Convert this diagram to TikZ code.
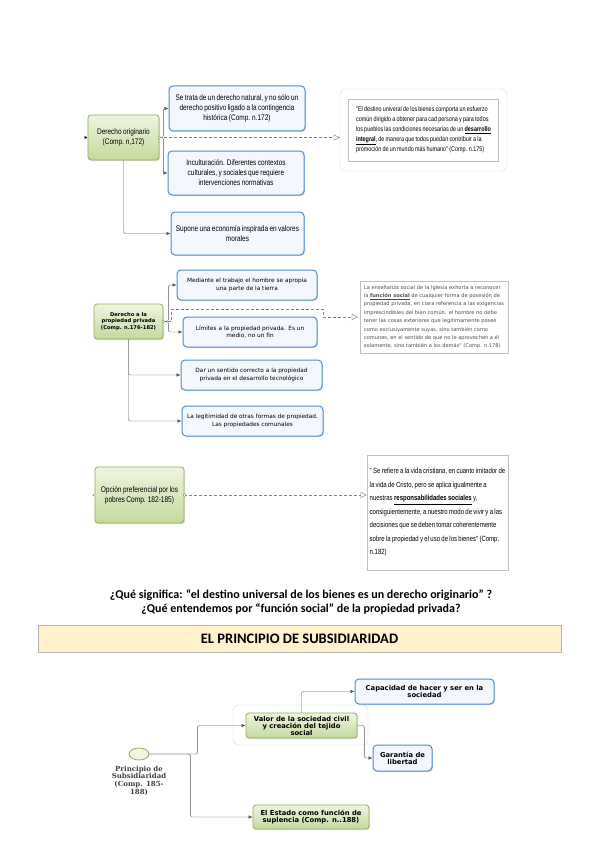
\documentclass[tikz,border=0pt]{standalone}
\usepackage{fontspec}
\setmainfont{Liberation Sans}
\newfontfamily\estrecha[FakeStretch=0.8, WordSpace=0.8]{Liberation Sans}
\newfontfamily\verdana{DejaVu Sans}
\newfontfamily\verdanaserif{DejaVu Serif}
\newfontfamily\calibri{Carlito}
\usetikzlibrary{arrows.meta, positioning, shapes.geometric, shadows}

\definecolor{azul}{HTML}{4A8FCF}
\definecolor{azulfondo}{HTML}{F5F7FF}
\definecolor{verdeborde}{HTML}{8FAE5A}
\definecolor{verdeclaro}{HTML}{EFF5DF}
\definecolor{verdeoscuro}{HTML}{C4D99D}
\definecolor{gris}{HTML}{7F7F7F}
\definecolor{beige}{HTML}{FFF2CC}

\begin{document}
\begin{tikzpicture}[
        x = 1pt, y = -1pt,
        >= {Latex[length = 4pt, width = 3.4pt]},
        sombra/.style = {drop shadow = {shadow xshift = 1pt, shadow yshift = -1pt, opacity = 0.25}},
        tema/.style = {rounded corners = 3pt, draw = verdeborde, thick, top color = verdeclaro,
            bottom color = verdeoscuro, align = center, inner sep = 2pt, sombra},
        hoja/.style = {rounded corners = 4pt, draw = azul, line width = 1pt, fill = azulfondo,
            align = center, inner sep = 2pt, sombra},
        cita/.style = {draw = gris!50, fill = white, align = left, inner sep = 3pt},
        enlace/.style = {draw = black!65, thin, rounded corners = 2pt, ->},
        nota/.style = {draw = gris, dash pattern = on 3pt off 2pt,
            -{Triangle[open, length = 6pt, width = 6pt]}},
        punto/.style = {circle, draw = gris, fill = white, inner sep = 0pt, minimum size = 3pt},
        angosta/.style = {font = \estrecha\fontsize{#1}{10}\selectfont},
        ancha/.style = {font = \verdana\fontsize{#1}{7.5}\selectfont},
        negrita/.style = {font = \verdana\bfseries\fontsize{#1}{7}\selectfont}
    ]

        \fill[white] (0,0) rectangle (599,848);
        \useasboundingbox (0,0) rectangle (599,848);

        % destino universal
        \node[tema, angosta = 8.1, minimum width = 71, minimum height = 45] (dor) at (123.5,137.5)
            {Derecho originario\\(Comp. n,172)};
        \node[hoja, angosta = 8.1, minimum width = 136, minimum height = 45] (dor_a) at (237,108.5)
            {Se trata de un derecho natural,  y no sólo un\\derecho positivo ligado a  la contingencia\\histórica (Comp. n.172)};
        \node[hoja, angosta = 8.1, minimum width = 136, minimum height = 44] (dor_b) at (236,173)
            {Inculturación. Diferentes contextos\\culturales, y sociales que requiere\\intervenciones normativas};
        \node[hoja, angosta = 8.1, minimum width = 133, minimum height = 43] (dor_c) at (237.5,233.5)
            {Supone una economía inspirada en valores\\morales};
        \node[rounded corners = 6pt, draw = gris!30, minimum width = 167, minimum height = 82] (q1) at (423.5,130) {};
        \node[cita, angosta = 6.8, minimum width = 150, minimum height = 62] (q1_t) at (q1.center)
            {"El destino univeral de los bienes comporta un esfuerzo\\común dirigido a obtener para cad persona  y para todos\\los pueblos las condiciones necesarias de un \underline{\textbf{desarrollo}}\\\underline{\textbf{integral}}, de manera que todos puedan contribuir a la\\promoción de un mundo más humano" (Comp. n.175)};

        \draw[-{Latex[length = 3pt, width = 3pt]}] ([xshift = -3pt]dor.west) -- (dor.west);
        \draw[enlace] (dor.east) -- ++(4,0) |- (dor_a.west);
        \draw[enlace] (dor.east) -- ++(4,0) |- (dor_b.west);
        \draw[enlace] (dor.south) |- (dor_c.west);
        \draw[nota] (dor.east) -- (dor.east -| q1.west);
        \node[punto] (dor_p) at (dor.east) {};

        % propiedad privada
        \node[tema, font = \verdana\bfseries\fontsize{5.2}{6.6}\selectfont, minimum width = 69, minimum height = 35] (pri) at (128.5,321.5)
            {Derecho a la\\propiedad privada\\(Comp. n.176-182)};
        \node[hoja, ancha = 5.8, minimum width = 140, minimum height = 30] (pri_a) at (247,285)
            {Mediante el trabajo  el hombre se apropia\\una parte de la tierra};
        \node[hoja, ancha = 5.8, minimum width = 134, minimum height = 30] (pri_b) at (250,332)
            {Límites a la propiedad privada. Es un\\medio, no un fin};
        \node[hoja, ancha = 5.8, minimum width = 141, minimum height = 30] (pri_c) at (251.5,375)
            {Dar un sentido correcto a la propiedad\\privada en el desarrollo tecnológico};
        \node[hoja, ancha = 5.8, minimum width = 141, minimum height = 30] (pri_d) at (252.5,421)
            {La legitimidad de otras formas de propiedad.\\Las propiedades comunales};
        \node[cita, font = \verdana\fontsize{5.1}{8.4}\selectfont, text = black!70, minimum width = 148, minimum height = 72] (q2) at (434,317)
            {La enseñanza social de la Iglesia exhorta a reconocer\\la \underline{\textbf{función social}} de cualquier forma de posesión de\\propiedad privada, en clara referencia a las exigencias\\imprescindibles del bien común. el hombre no debe\\tener las cosas exteriores que legítimamente posee\\como exclusivamente suyas, sino también como\\comunes, en el sentido de que no le aprovechen a él\\solamente, sino también a los demás" (Comp. n.178)};
        \coordinate (pri_k) at (323,309);

        \draw[enlace] (pri.east) -- ++(5,0) |- (pri_a.west);
        \draw[enlace] (pri.east) -- ++(5,0) |- (pri_b.west);
        \draw[enlace] (pri.south) |- (pri_c.west);
        \draw[enlace] (pri.south) |- (pri_d.west);
        \draw[nota] (pri.east) -- ++(8,0) |- (pri_k) |- ([xshift = -2pt]q2.west);
        \node[punto] (pri_p) at (pri.east) {};

        % opcion por los pobres
        \node[tema, angosta = 8.2, minimum width = 89, minimum height = 56] (opc) at (139.5,495)
            {Opción preferencial por los\\pobres  Comp. 182-185)};
        \node[cita, font = \estrecha\fontsize{7.5}{13.5}\selectfont, minimum width = 139, minimum height = 115] (q3) at (437.5,512.5)
            {" Se refiere a la vida cristiana, en cuanto imitador de\\la vida de Cristo, pero se aplica igualmente a\\nuestras \underline{\textbf{responsabilidades sociales}} y,\\consiguientemente, a nuestro modo de vivir y a las\\decisiones que se deben tomar coherentemente\\sobre la propiedad y el uso de los bienes" (Comp.\\n.182)};

        \fill[black!70] ([xshift = -1.5pt]opc.west) circle (0.8pt);
        \draw[nota] (opc.east) -- (opc.east -| q3.west);
        \node[punto] (opc_p) at (opc.east) {};

        % preguntas y titulo
        \node[align = center, font = \calibri\bfseries\fontsize{12}{14}\selectfont] (preg) at (301,602)
            {¿Qué significa: “el destino universal de los bienes es un derecho originario” ?\\¿Qué entendemos por “función social” de la propiedad privada?};
        \node[draw = gris!60, fill = beige, font = \calibri\bfseries\fontsize{14.5}{16}\selectfont, minimum width = 523, minimum height = 27] (titulo) at (299.5,638.5)
            {EL PRINCIPIO DE SUBSIDIARIDAD};

        % subsidiaridad
        \node[ellipse, draw = verdeborde, thick, fill = verdeclaro, minimum width = 20, minimum height = 12] (sub) at (139,754) {};
        \node[below = 2pt of sub, align = center, text = black!75, font = \verdanaserif\bfseries\fontsize{7}{7.6}\selectfont] (sub_l)
            {Principio de\\Subsidiaridad\\(Comp. 185-\\188)};
        \node[rounded corners = 5pt, draw = verdeborde!45, minimum width = 135, minimum height = 40] (grupo) at (300.5,725) {};
        \node[tema, negrita = 6.8, minimum width = 111, minimum height = 25] (soc) at (301.5,725.5)
            {Valor de la sociedad civil\\y creación del tejido\\social};
        \node[hoja, negrita = 6.8, minimum width = 139, minimum height = 25] (soc_a) at (424.5,691.5)
            {Capacidad de hacer y ser en la\\sociedad};
        \node[hoja, negrita = 6.8, minimum width = 59, minimum height = 26] (soc_b) at (402.5,758)
            {Garantía de\\libertad};
        \node[tema, negrita = 6.8, minimum width = 116, minimum height = 24] (est) at (311,817)
            {El Estado como función de\\suplencia (Comp. n..188)};

        \draw[enlace] (sub.east) -- ++(48,0) |- (soc.west);
        \draw[enlace] (sub.east) -- ++(41,0) |- (est.west);
        \draw[enlace] (soc.north) |- (soc_a.west);
        \draw[enlace] (soc.east) -- ++(7,0) |- (soc_b.west);

    \end{tikzpicture}
\end{document}
